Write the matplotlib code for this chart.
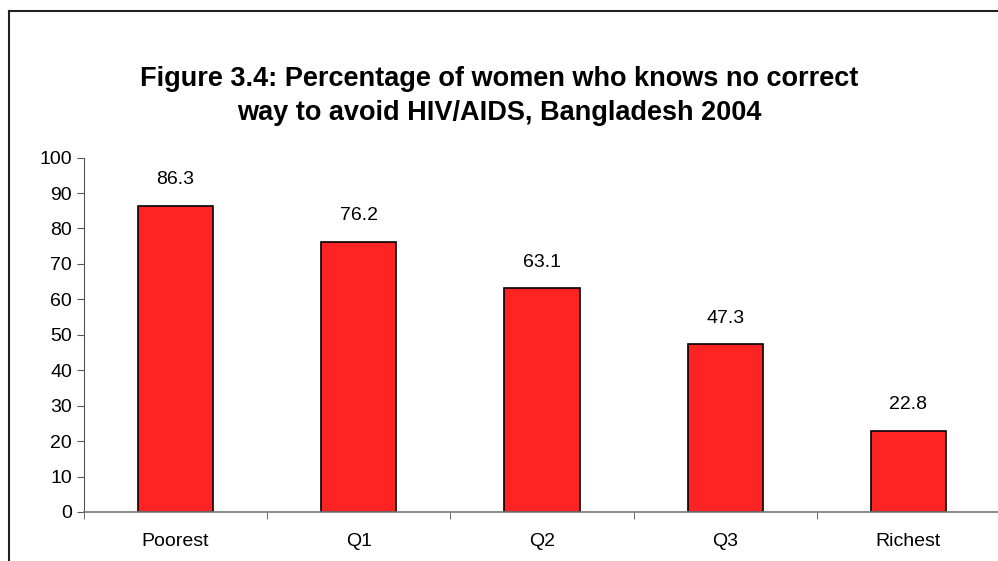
import matplotlib.pyplot as plt
from matplotlib.lines import Line2D

categories = ["Poorest", "Q1", "Q2", "Q3", "Richest"]
values = [86.3, 76.2, 63.1, 47.3, 22.8]
title = "Figure 3.4: Percentage of women who knows no correct\nway to avoid HIV/AIDS, Bangladesh 2004"

plt.rcParams['font.family'] = ['Liberation Sans', 'DejaVu Sans']

W, H = 998, 561
fig = plt.figure(figsize=(W / 100, H / 100), dpi=100)

# frame around the chart (cut off on the right and bottom)
fig.add_artist(Line2D([8.5 / W, 8.5 / W], [0, 1 - 11 / H], color='#222222', lw=1.5))
fig.add_artist(Line2D([8.5 / W, 1], [1 - 11 / H, 1 - 11 / H], color='#222222', lw=1.5))

ax = fig.add_axes([84 / W, 1 - 512 / H, (W - 84) / W + 0.002, (512 - 157.6) / H])
x = range(len(categories))
ax.bar(x, values, width=0.41, color='#ff2424', edgecolor='black', linewidth=1.2)
for xi, v in zip(x, values):
    ax.text(xi, v + 5, f"{v:.1f}", ha='center', va='bottom', fontsize=14)

ax.set_xlim(-0.5, len(categories) - 0.5)
ax.set_ylim(0, 100)
ax.set_yticks(range(0, 101, 10))
ax.set_xticks(x)
ax.set_xticklabels(categories)
ax.set_xticks([i + 0.5 for i in range(-1, len(categories))], minor=True)
ax.tick_params(axis='x', which='major', length=0, pad=15, labelsize=14)
ax.tick_params(axis='x', which='minor', length=5, direction='out', color='#555555')
ax.tick_params(axis='y', length=5, direction='out', labelsize=14, color='#555555')
for s in ['top', 'right']:
    ax.spines[s].set_visible(False)
ax.spines['left'].set_color('#555555')
ax.spines['bottom'].set_color('#777777')
ax.spines['bottom'].set_linewidth(1.2)

fig.text(0.5, 1 - 96 / H, title, ha='center', va='center', fontsize=19.5,
         fontweight='bold', linespacing=1.4)

fig.savefig("out.png", dpi=100)
